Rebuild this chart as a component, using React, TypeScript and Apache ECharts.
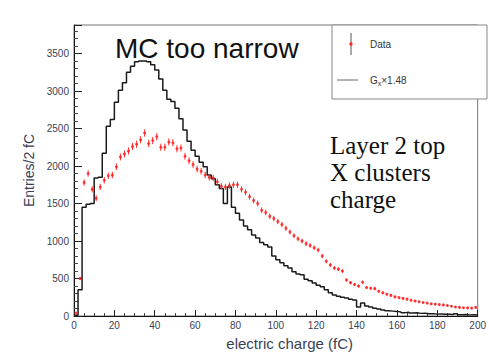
import React, { useEffect, useRef } from "react";
import * as echarts from "echarts";

const BIN_WIDTH = 2;
const X_TICKS = [0, 20, 40, 60, 80, 100, 120, 140, 160, 180, 200];

// MC histogram counts per 2 fC bin (bin k covers [2k, 2k+2))
const mcCounts = [
  10, 350, 1450, 1490, 1500, 1840, 1850, 2170, 2530, 2620,
  2850, 3010, 3110, 3250, 3330, 3390, 3400, 3400, 3390, 3350,
  3280, 3160, 3010, 2890, 2860, 2770, 2630, 2480, 2330, 2210,
  2130, 2050, 1990, 1880, 1830, 1750, 1700, 1500, 1720, 1450,
  1370, 1280, 1200, 1150, 1080, 1040, 980, 950, 920, 800,
  750, 710, 670, 640, 590, 560, 550, 490, 470, 440,
  410, 390, 350, 310, 280, 265, 250, 240, 225, 215,
  120, 175, 135, 120, 105, 95, 80, 70, 65, 60,
  55, 45, 50, 40, 42, 35, 38, 30, 30, 25,
  28, 22, 25, 20, 30, 18, 20, 15, 18, 12,
];

// Data counts per 2 fC bin (point at bin centre)
const dataCounts = [
  40, 500, 1780, 1900, 1690, 1570, 1720, 1810, 1870, 1880,
  1990, 2120, 2160, 2200, 2260, 2290, 2350, 2440, 2300, 2340,
  2390, 2250, 2250, 2320, 2310, 2230, 2240, 2130, 2070, 2020,
  1960, 1930, 1880, 1850, 1840, 1790, 1730, 1720, 1740, 1750,
  1750, 1690, 1650, 1590, 1540, 1500, 1410, 1380, 1330, 1300,
  1260, 1220, 1170, 1120, 1070, 1030, 1000, 965, 940, 910,
  880, 800, 730, 680, 640, 625, 600, 480, 445, 420,
  400, 450, 380, 370, 365, 330, 310, 290, 275, 255,
  245, 235, 225, 210, 200, 190, 180, 172, 162, 158,
  152, 148, 140, 130, 120, 115, 110, 108, 105, 115,
];

export default function App() {
  const ref = useRef<HTMLDivElement>(null);
  useEffect(() => {
    if (!ref.current) return;
    const chart = echarts.init(ref.current, null, { renderer: "svg" });

    const mcLine: number[][] = mcCounts.map((c, k) => [k * BIN_WIDTH, c]);
    mcLine.push([mcCounts.length * BIN_WIDTH, mcCounts[mcCounts.length - 1]]);
    const dataPts: number[][] = dataCounts.map((c, i) => [i * BIN_WIDTH + BIN_WIDTH / 2, c]);

    const sans = '"Liberation Sans", Arial, sans-serif';
    const serif = '"Liberation Serif", "Times New Roman", serif';

    chart.setOption({
      animation: false,
      backgroundColor: "#ffffff",
      grid: {
        left: 74,
        right: 2,
        top: 25,
        bottom: 36,
        show: true,
        borderColor: "#777",
        borderWidth: 1,
        backgroundColor: "transparent",
      },
      xAxis: {
        type: "value",
        min: 0,
        max: 200,
        interval: 20,
        axisLine: { show: true, onZero: false, lineStyle: { color: "#111", width: 1 } },
        axisTick: { show: true, inside: true, length: 6, lineStyle: { color: "#222" } },
        minorTick: { show: true, splitNumber: 4, length: 3, lineStyle: { color: "#444" } },
        splitLine: { show: false },
        axisLabel: {
          color: "#3a3f55",
          fontSize: 10,
          fontFamily: sans,
          margin: 4,
          formatter: (v: number) => (X_TICKS.indexOf(v) >= 0 ? String(v) : ""),
        },
      },
      yAxis: {
        type: "value",
        min: 0,
        max: 3880,
        interval: 500,
        name: "Entries/2 fC",
        nameLocation: "middle",
        nameGap: 36,
        nameTextStyle: { color: "#3a3f55", fontSize: 14, fontFamily: sans },
        axisLine: { show: true, lineStyle: { color: "#111", width: 1 } },
        axisTick: { show: true, inside: true, length: 8, lineStyle: { color: "#222" } },
        minorTick: { show: true, splitNumber: 5, length: 4, lineStyle: { color: "#444" } },
        splitLine: { show: false },
        axisLabel: {
          color: "#3a3f55",
          fontSize: 10,
          fontFamily: sans,
          margin: 5,
          showMaxLabel: false,
          formatter: (v: number) => String(v),
        },
      },
      series: [
        {
          type: "line",
          name: "MC",
          data: mcLine,
          step: "end",
          symbol: "none",
          lineStyle: { color: "#1a1a1a", width: 1.5 },
          z: 2,
        },
        {
          type: "custom",
          name: "err",
          data: dataPts,
          renderItem: (params: any, api: any) => {
            const x = api.value(0);
            const y = api.value(1);
            const e = Math.sqrt(Math.max(y, 1));
            const p1 = api.coord([x, y - e]);
            const p2 = api.coord([x, y + e]);
            return {
              type: "line",
              shape: { x1: p1[0], y1: p1[1], x2: p2[0], y2: p2[1] },
              style: { stroke: "#ff3030", lineWidth: 1 },
            };
          },
          z: 3,
        },
        {
          type: "scatter",
          name: "Data",
          data: dataPts,
          symbol: "circle",
          symbolSize: 3,
          itemStyle: { color: "#ff1a1a" },
          z: 4,
        },
      ],
      graphic: [
        {
          type: "text",
          x: 115,
          y: 48.5,
          style: {
            text: "MC too narrow",
            font: `28px ${sans}`,
            fill: "#111",
            textAlign: "left",
            textVerticalAlign: "middle",
          },
          z: 10,
        },
        {
          type: "rect",
          shape: { x: 332, y: 25, width: 155, height: 74 },
          style: { fill: "#fff", stroke: "#888", lineWidth: 1 },
          z: 10,
        },
        {
          type: "line",
          shape: { x1: 351, y1: 33, x2: 351, y2: 55 },
          style: { stroke: "#555", lineWidth: 1 },
          z: 11,
        },
        {
          type: "circle",
          shape: { cx: 351, cy: 44, r: 1.6 },
          style: { fill: "#ff1a1a" },
          z: 12,
        },
        {
          type: "text",
          x: 370,
          y: 44,
          style: {
            text: "Data",
            font: `10px ${sans}`,
            fill: "#333",
            textVerticalAlign: "middle",
          },
          z: 11,
        },
        {
          type: "line",
          shape: { x1: 337, y1: 80, x2: 358, y2: 80 },
          style: { stroke: "#666", lineWidth: 1 },
          z: 11,
        },
        {
          type: "text",
          x: 370,
          y: 80,
          style: {
            text: "{a|G}{b|x}{a|×1.48}",
            rich: {
              a: { fontSize: 10, fontFamily: sans, fill: "#333", color: "#333" },
              b: { fontSize: 7, fontFamily: sans, fill: "#333", color: "#333", padding: [6, 0, 0, 0] },
            },
            textVerticalAlign: "middle",
          },
          z: 11,
        },
        {
          type: "text",
          x: 330,
          y: 145.5,
          style: { text: "Layer 2 top", font: `25px ${serif}`, fill: "#111", textVerticalAlign: "middle" },
          z: 10,
        },
        {
          type: "text",
          x: 330,
          y: 172.5,
          style: { text: "X clusters", font: `25px ${serif}`, fill: "#111", textVerticalAlign: "middle" },
          z: 10,
        },
        {
          type: "text",
          x: 330,
          y: 199.5,
          style: { text: "charge", font: `25px ${serif}`, fill: "#111", textVerticalAlign: "middle" },
          z: 10,
        },
        {
          type: "text",
          x: 353,
          y: 343,
          style: {
            text: "electric charge (fC)",
            font: `15px ${sans}`,
            fill: "#3a3f55",
            textAlign: "right",
            textVerticalAlign: "middle",
          },
          z: 10,
        },
      ],
    });
    return () => chart.dispose();
  }, []);

  return (
    <div
      ref={ref}
      style={{ position: "absolute", left: 0, top: 0, width: 489, height: 352, background: "#fff" }}
    />
  );
}
